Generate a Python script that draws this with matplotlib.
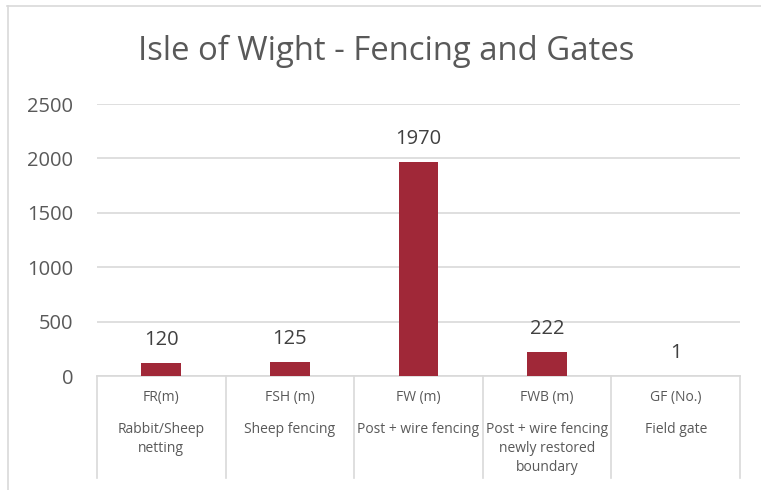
import matplotlib
matplotlib.use("Agg")
import matplotlib.pyplot as plt
from matplotlib.lines import Line2D
from matplotlib.transforms import blended_transform_factory

# data
codes = ["FR(m)", "FSH (m)", "FW (m)", "FWB (m)", "GF (No.)"]
descriptions = ["Rabbit/Sheep\nnetting", "Sheep fencing", "Post + wire fencing",
                "Post + wire fencing\nnewly restored\nboundary", "Field gate"]
values = [120, 125, 1970, 222, 1]
yticks = [0, 500, 1000, 1500, 2000, 2500]

W, H = 761, 490
txt = "#595959"
bar_col = "#A02838"
grid_col = "#D9D9D9"

plt.rcParams['font.family'] = ['Open Sans', 'DejaVu Sans']

fig = plt.figure(figsize=(W / 100, H / 100), dpi=100)
ax = fig.add_axes([97 / W, 1 - 376 / H, 643 / W, 272 / H])

x = list(range(len(values)))
ax.bar(x, values, width=0.31, color=bar_col, zorder=3)
ax.set_xlim(-0.5, len(values) - 0.5)
ax.set_ylim(0, 2500)
ax.set_yticks(yticks)
ax.set_yticklabels([str(t) for t in yticks], fontsize=14.5, color=txt)
ax.tick_params(axis='y', length=0, pad=17)
ax.set_xticks([])
ax.grid(axis='y', color=grid_col, linewidth=1.2, zorder=0)
for s in ['top', 'right', 'left']:
    ax.spines[s].set_visible(False)
ax.spines['bottom'].set_color(grid_col)
ax.spines['bottom'].set_linewidth(1.2)

# value labels
for xi, v in zip(x, values):
    ax.annotate(str(v), (xi, v), xytext=(0, 13), textcoords='offset points',
                ha='center', va='baseline', fontsize=14.5, color="#404040")

# multi-level category axis
tr = blended_transform_factory(ax.transData, ax.transAxes)
for b in range(len(values) + 1):
    ax.plot([b - 0.5, b - 0.5], [0, -0.375], color=grid_col, lw=1.2,
            transform=tr, clip_on=False)
for xi, c, d in zip(x, codes, descriptions):
    ax.text(xi, -0.08, c, transform=tr, ha='center', va='center',
            fontsize=10, color=txt)
    ax.text(xi, -0.168, d, transform=tr, ha='center', va='top',
            fontsize=10, color=txt, linespacing=1.38)

fig.text(386 / W, 1 - 51 / H, "Isle of Wight - Fencing and Gates",
         ha='center', va='center', fontsize=23.7, color=txt)

# chart frame (left and top edges visible)
fig.add_artist(Line2D([7.5 / W, 7.5 / W], [0, 1 - 6 / H], color=grid_col, lw=1.2))
fig.add_artist(Line2D([7 / W, 1], [1 - 6.5 / H, 1 - 6.5 / H], color=grid_col, lw=1.2))

fig.savefig("out.png", dpi=100, facecolor='white')
